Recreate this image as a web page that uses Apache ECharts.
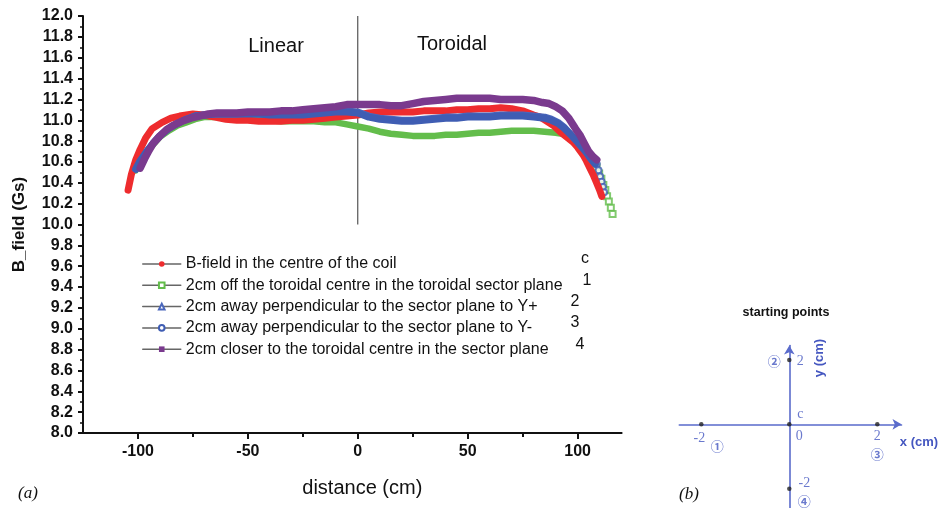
<!DOCTYPE html>
<html>
<head>
<meta charset="utf-8">
<title>B-field along the coil</title>
<script src="https://cdn.jsdelivr.net/npm/echarts@6/dist/echarts.min.js"></script>
<style>
  html, body { margin: 0; padding: 0; background: #fff; }
  #chart { width: 940px; height: 508px; }
</style>
</head>
<body>
<div id="chart"></div>
<script>
// ---- measured field profiles (distance in cm, field in Gs) ----
const seriesNames = [
  'B-field in the centre of the coil',
  '2cm off the toroidal centre in the toroidal sector plane',
  '2cm away perpendicular to the sector plane to Y+',
  '2cm away perpendicular to the sector plane to Y-',
  '2cm closer to the toroidal centre in the sector plane'
];
const startTags = ['c', '1', '2', '3', '4'];

const distCentre = [-104.5, -103, -101, -99, -96.5, -93.5, -89, -85, -81, -75, -70, -65, -60, -55, -50, -45, -40, -35, -30, -25, -20, -15, -10, -5, 0, 5, 10, 15, 20, 25, 30, 35, 40, 45, 50, 55, 60, 65, 70, 75, 80, 83, 86, 89, 92, 95, 98, 100, 102.4, 104, 105.6, 107, 108.4, 110, 111];
const fieldCentre = [10.33, 10.48, 10.62, 10.72, 10.83, 10.92, 10.98, 11.02, 11.04, 11.06, 11.05, 11.03, 11.01, 11.00, 11.00, 10.99, 10.99, 10.99, 11.00, 11.00, 11.01, 11.02, 11.03, 11.04, 11.05, 11.07, 11.08, 11.08, 11.08, 11.08, 11.09, 11.09, 11.09, 11.10, 11.10, 11.11, 11.11, 11.12, 11.11, 11.09, 11.05, 11.03, 10.99, 10.95, 10.89, 10.84, 10.79, 10.74, 10.67, 10.61, 10.54, 10.48, 10.41, 10.33, 10.27];

const distOff = [-101, -99, -96, -93, -90, -86, -82, -78, -74, -70, -65, -60, -55, -50, -45, -40, -35, -30, -25, -20, -15, -10, -5, 0, 5, 10, 15, 20, 25, 30, 35, 40, 45, 50, 55, 60, 65, 70, 75, 80, 85, 90, 93, 96, 98, 100, 102, 104, 105.5, 107.2];
const fieldOff = [10.52, 10.60, 10.69, 10.77, 10.84, 10.90, 10.95, 10.98, 11.01, 11.03, 11.03, 11.03, 11.02, 11.02, 11.01, 11.00, 10.99, 10.99, 10.99, 10.99, 10.98, 10.98, 10.96, 10.94, 10.92, 10.89, 10.87, 10.86, 10.85, 10.85, 10.85, 10.86, 10.86, 10.87, 10.88, 10.88, 10.89, 10.90, 10.90, 10.90, 10.89, 10.88, 10.87, 10.84, 10.80, 10.77, 10.72, 10.67, 10.63, 10.60];
const distOffTail = [107.2, 108.6, 109.8, 110.8, 111.7, 112.6, 113.4, 114.2, 115.1, 115.9];
const fieldOffTail = [10.60, 10.55, 10.49, 10.44, 10.38, 10.33, 10.27, 10.22, 10.16, 10.10];

const distYPlus = [-101, -99, -96, -93, -90, -86, -82, -78, -74, -70, -65, -60, -55, -50, -45, -40, -35, -30, -25, -20, -15, -10, -5, 0, 5, 10, 15, 20, 25, 30, 35, 40, 45, 50, 55, 60, 65, 70, 75, 80, 85, 88, 91, 94, 97, 100, 102, 104, 106, 108];
const fieldYPlus = [10.53, 10.61, 10.70, 10.78, 10.85, 10.92, 10.97, 11.01, 11.04, 11.05, 11.06, 11.06, 11.06, 11.07, 11.06, 11.06, 11.06, 11.06, 11.06, 11.07, 11.08, 11.09, 11.09, 11.08, 11.04, 11.02, 11.01, 11.00, 11.00, 11.01, 11.02, 11.03, 11.03, 11.04, 11.04, 11.04, 11.05, 11.05, 11.05, 11.04, 11.03, 11.01, 10.98, 10.93, 10.86, 10.79, 10.74, 10.69, 10.63, 10.58];

const distYMinus = [-101, -99, -96, -93, -90, -86, -82, -78, -74, -70, -65, -60, -55, -50, -45, -40, -35, -30, -25, -20, -15, -10, -5, 0, 5, 10, 15, 20, 25, 30, 35, 40, 45, 50, 55, 60, 65, 70, 75, 80, 85, 88, 91, 94, 97, 100, 102, 104, 106, 108];
const fieldYMinus = [10.53, 10.61, 10.70, 10.78, 10.85, 10.92, 10.97, 11.01, 11.04, 11.05, 11.06, 11.06, 11.06, 11.06, 11.06, 11.05, 11.05, 11.05, 11.05, 11.06, 11.07, 11.08, 11.08, 11.07, 11.03, 11.01, 11.00, 10.99, 10.99, 11.00, 11.01, 11.02, 11.02, 11.03, 11.03, 11.03, 11.04, 11.04, 11.04, 11.03, 11.02, 11.00, 10.97, 10.92, 10.86, 10.79, 10.74, 10.69, 10.63, 10.58];
const distYMinusTail = [108.7, 109.5, 110.2, 110.9, 111.5, 112];
const fieldYMinusTail = [10.58, 10.52, 10.46, 10.41, 10.36, 10.31];

const distCloser = [-99, -97, -95, -93, -90, -87, -84, -80, -76, -72, -68, -64, -60, -55, -50, -45, -40, -35, -30, -25, -20, -15, -10, -5, 0, 5, 10, 15, 20, 25, 30, 35, 40, 45, 50, 55, 60, 65, 70, 75, 80, 84, 87, 90, 93, 96, 99, 101, 103, 105, 107, 108.7];
const fieldCloser = [10.54, 10.63, 10.71, 10.78, 10.85, 10.91, 10.95, 10.99, 11.02, 11.04, 11.06, 11.07, 11.07, 11.07, 11.08, 11.08, 11.08, 11.09, 11.09, 11.10, 11.11, 11.12, 11.13, 11.15, 11.15, 11.15, 11.15, 11.14, 11.14, 11.16, 11.18, 11.19, 11.20, 11.21, 11.21, 11.21, 11.21, 11.20, 11.20, 11.20, 11.19, 11.17, 11.16, 11.13, 11.09, 11.02, 10.92, 10.86, 10.78, 10.70, 10.65, 10.62];

// boundary between the linear and toroidal sections
const boundaryDist = [0, 0];
const boundaryField = [12.0, 10.0];

// axis ticks
const xMajorTicks = [-100, -50, 0, 50, 100];
const xMinorTicks = [-75, -25, 25, 75];

// starting points of the probe (inset, cm)
const startX = [-2, 0, 2, 0, 0];
const startY = [0, 0, 0, 2, -2];
const startCoordText = ['-2', '0', '2', '2', '-2'];
const startMarkText = ['\u2460', 'c', '\u2462', '\u2461', '\u2463'];

// ---- styling ----
const SANS = '"Liberation Sans", Arial, sans-serif';
const SERIF = '"Liberation Serif", "Times New Roman", serif';
const CIRCLED = '"Noto Sans CJK SC", "DejaVu Sans", sans-serif';
const RED = '#ee2c2e';
const GREEN = '#63bd4b';
const BLUE = '#3f5db3';
const BLUE2 = '#4a66bb';
const PURPLE = '#7a3a8e';
const INSET_BLUE = '#5a6bcb';
const INSET_TEXT = '#4557c0';

const zip = (xs, ys) => xs.map((x, i) => [x, ys[i]]);

function profile(name, xs, ys, color, symbol, width) {
  return {
    type: 'line', name: name, data: zip(xs, ys),
    xAxisIndex: 0, yAxisIndex: 0,
    symbol: symbol, showSymbol: false, silent: true,
    lineStyle: { color: color, width: width, cap: 'round', join: 'round' },
    itemStyle: { color: color }
  };
}
function tail(name, xs, ys, color, symbol) {
  return {
    type: 'scatter', name: name, data: zip(xs, ys),
    xAxisIndex: 0, yAxisIndex: 0, silent: true,
    symbol: symbol, symbolSize: 6,
    itemStyle: { color: color, borderColor: color, borderWidth: 1.3 }
  };
}

// label offsets around each inset point: coordinate text and marker text
const coordOffsets = [[-2, 14], [10, 12], [0, 12], [11, 1], [15, -5]];
const markOffsets = [[16, 22], [11, -10], [0, 30], [-15, 1], [15, 12]];

const chart = echarts.init(document.getElementById('chart'), null, { renderer: 'canvas' });

const legendTagX = [585, 587, 575, 575, 580];
const legendRowY = [259, 280.3, 301.6, 322.9, 344.2];

const graphicTexts = [
  { text: 'Linear', x: 276, y: 46, font: '20px ' + SANS, fill: '#111' },
  { text: 'Toroidal', x: 452, y: 44, font: '20px ' + SANS, fill: '#111' },
  { text: '(a)', x: 28, y: 494, font: 'italic 17px ' + SERIF, fill: '#111' },
  { text: '(b)', x: 689, y: 495, font: 'italic 17px ' + SERIF, fill: '#111' },
  { text: 'starting points', x: 786, y: 313, font: 'bold 12.5px ' + SANS, fill: '#111' },
  { text: 'x (cm)', x: 919, y: 442, font: 'bold 13px ' + SANS, fill: INSET_TEXT },
  { text: 'y (cm)', x: 819, y: 358, font: 'bold 13px ' + SANS, fill: INSET_TEXT, rotation: Math.PI / 2 }
].concat(startTags.map((t, i) => ({
  text: t, x: legendTagX[i], y: legendRowY[i], font: '16px ' + SANS, fill: '#111'
})));

const option = {
  animation: false,
  backgroundColor: '#fff',
  grid: [
    { left: 83, top: 16, width: 538.6, height: 417, containLabel: false },
    { left: 679.3, top: 345.5, width: 222.2, height: 162.9, containLabel: false }
  ],
  xAxis: [
    {
      type: 'value', gridIndex: 0, position: 'bottom', min: -125, max: 120,
      name: 'distance (cm)', nameLocation: 'middle', nameGap: 45,
      nameTextStyle: { fontFamily: SANS, fontSize: 20, color: '#111', padding: [0, 0, 0, 20] },
      axisLine: { onZero: false, lineStyle: { color: '#111', width: 2 } },
      axisTick: { show: true, customValues: xMajorTicks, length: 6, lineStyle: { color: '#111', width: 2 } },
      axisLabel: { customValues: xMajorTicks, margin: 11, fontFamily: SANS, fontSize: 16, fontWeight: 'bold', color: '#111' },
      splitLine: { show: false }
    },
    {
      type: 'value', gridIndex: 0, position: 'bottom', min: -125, max: 120,
      axisLine: { show: false, onZero: false },
      axisTick: { show: true, customValues: xMinorTicks, length: 4, lineStyle: { color: '#111', width: 2 } },
      axisLabel: { show: false },
      splitLine: { show: false }
    },
    {
      type: 'value', gridIndex: 1, min: -2.5, max: 2.55,
      axisLine: { onZero: true, symbol: ['none', 'arrow'], symbolSize: [8, 9], lineStyle: { color: INSET_BLUE, width: 1.6 } },
      axisTick: { show: false }, axisLabel: { show: false }, splitLine: { show: false }
    }
  ],
  yAxis: [
    {
      type: 'value', gridIndex: 0, min: 8, max: 12, interval: 0.2,
      name: 'B_field (Gs)', nameLocation: 'middle', nameGap: 55,
      nameTextStyle: { fontFamily: SANS, fontSize: 17, fontWeight: 'bold', color: '#111' },
      axisLine: { show: true, onZero: false, lineStyle: { color: '#111', width: 2 } },
      axisTick: { show: true, length: 5, lineStyle: { color: '#111', width: 2 } },
      minorTick: { show: true, splitNumber: 2, length: 3, lineStyle: { color: '#111', width: 1.5 } },
      axisLabel: { margin: 10, fontFamily: SANS, fontSize: 16, fontWeight: 'bold', color: '#111',
        formatter: v => v.toFixed(1) },
      splitLine: { show: false }
    },
    {
      type: 'value', gridIndex: 1, min: -2.6, max: 2.45,
      axisLine: { onZero: true, symbol: ['none', 'arrow'], symbolSize: [8, 9], lineStyle: { color: INSET_BLUE, width: 1.6 } },
      axisTick: { show: false }, axisLabel: { show: false }, splitLine: { show: false }
    }
  ],
  legend: {
    data: seriesNames,
    orient: 'vertical', left: 137, top: 251,
    itemWidth: 38, itemHeight: 7, itemGap: 5.3,
    selectedMode: false,
    lineStyle: { color: '#666', width: 1.5 },
    textStyle: { fontFamily: SANS, fontSize: 16, color: '#111', lineHeight: 16 }
  },
  series: [
    {
      type: 'line', name: 'boundary', data: zip(boundaryDist, boundaryField),
      xAxisIndex: 0, yAxisIndex: 0, symbol: 'none', silent: true,
      lineStyle: { color: '#333', width: 1 }
    },
    profile(seriesNames[1], distOff, fieldOff, GREEN, 'emptyRect', 6.5),
    profile(seriesNames[0], distCentre, fieldCentre, RED, 'circle', 7),
    profile(seriesNames[2], distYPlus, fieldYPlus, BLUE2, 'emptyTriangle', 7),
    profile(seriesNames[3], distYMinus, fieldYMinus, BLUE, 'emptyCircle', 7),
    profile(seriesNames[4], distCloser, fieldCloser, PURPLE, 'rect', 7.5),
    tail(seriesNames[1], distOffTail, fieldOffTail, GREEN, 'emptyRect'),
    tail(seriesNames[3], distYMinusTail, fieldYMinusTail, BLUE, 'emptyCircle'),
    {
      type: 'scatter', name: 'start points', xAxisIndex: 2, yAxisIndex: 1, silent: true,
      symbol: 'circle', symbolSize: 4.5, itemStyle: { color: '#222' },
      data: startX.map((x, i) => ({
        value: [x, startY[i]],
        label: { show: true, formatter: startCoordText[i], position: 'inside', offset: coordOffsets[i],
          fontFamily: SERIF, fontSize: 14, color: INSET_TEXT }
      }))
    },
    {
      type: 'scatter', name: 'start marks', xAxisIndex: 2, yAxisIndex: 1, silent: true,
      symbol: 'circle', symbolSize: 1, itemStyle: { color: 'rgba(0,0,0,0)' },
      data: startX.map((x, i) => ({
        value: [x, startY[i]],
        label: { show: true, formatter: startMarkText[i], position: 'inside', offset: markOffsets[i],
          fontFamily: i === 1 ? SERIF : CIRCLED,
          fontWeight: i === 1 ? 'normal' : 'bold',
          fontSize: i === 1 ? 14 : 13, color: INSET_TEXT }
      }))
    }
  ],
  graphic: graphicTexts.map(g => ({
    type: 'text', x: g.x, y: g.y, rotation: g.rotation || 0, silent: true,
    style: { text: g.text, font: g.font, fill: g.fill,
      align: 'center', verticalAlign: 'middle', textAlign: 'center', textVerticalAlign: 'middle' }
  }))
};

chart.setOption(option);
</script>
</body>
</html>
